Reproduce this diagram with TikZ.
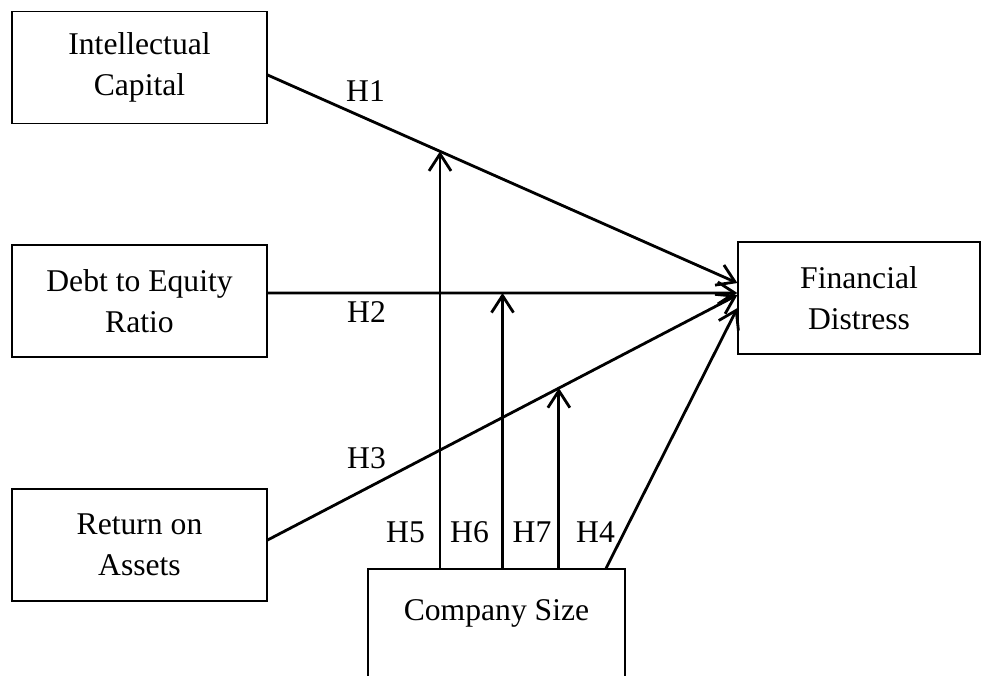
\documentclass[tikz,border=0pt]{standalone}
\usepackage{fontspec}
\setmainfont{Liberation Serif}
\usetikzlibrary{arrows.meta, positioning, calc}

\begin{document}
\begin{tikzpicture}[>={Straight Barb[length=0.34cm, width=0.44cm]},
      font=\fontsize{18}{23.3}\selectfont, x=1cm, y=1cm,
      var/.style={draw, line width=0.7pt, align=center, inner sep=0pt,
                  minimum width=5.1cm, minimum height=2.24cm},
      ar/.style={->, line width=1.6pt},
      hyp/.style={inner sep=0pt}]
    \useasboundingbox (0,0) rectangle (19.64,13.5);
    \node[var] (IC) at (2.79,12.15) {Intellectual\\Capital};
    \node[var] (DER) at (2.79,7.48) {Debt to Equity\\Ratio};
    \node[var] (ROA) at (2.79,2.6) {Return on\\Assets};
    \node[var, minimum width=4.84cm] (FD) at (17.18,7.54) {Financial\\Distress};
    \node[var, minimum width=5.14cm, minimum height=2.46cm] (CS) at (9.93,0.89) {Company Size\\~};
    % ends of the direct paths
    \coordinate (ic) at ($(IC.east)+(0,-0.15)$);
    \coordinate (der) at ($(DER.east)+(0,0.16)$);
    \coordinate (roa) at ($(ROA.east)+(0,0.1)$);
    \coordinate (f1) at ($(FD.west)+(0,0.3)$);
    \coordinate (f2) at ($(FD.west)+(0,0.1)$);
    \coordinate (f3) at ($(FD.west)+(0,0.06)$);
    \coordinate (f4) at ($(FD.west)+(0,-0.2)$);
    \draw[ar] (ic) -- coordinate[pos=0.367] (m5) (f1);
    \draw[ar] (der) -- coordinate (m6) (f2);
    \draw[ar] (roa) -- coordinate[pos=0.62] (m7) (f3);
    \draw[ar] ($(CS.north)+(2.19,0)$) -- (f4);
    % moderating paths
    \foreach \m in {m5,m6,m7}{
      \draw[ar] (CS.north -| \m) -- (\m);}
    \node[hyp] (h1) at (7.31,11.68) {H1};
    \node[hyp] (h2) at (7.33,7.26) {H2};
    \node[hyp] (h3) at (7.33,4.33) {H3};
    \foreach \n/\x/\l in {h5/8.11/H5, h6/9.39/H6, h7/10.64/H7, h4/11.91/H4}{
      \node[hyp] (\n) at (\x,2.85) {\l};}
  \end{tikzpicture}
\end{document}
